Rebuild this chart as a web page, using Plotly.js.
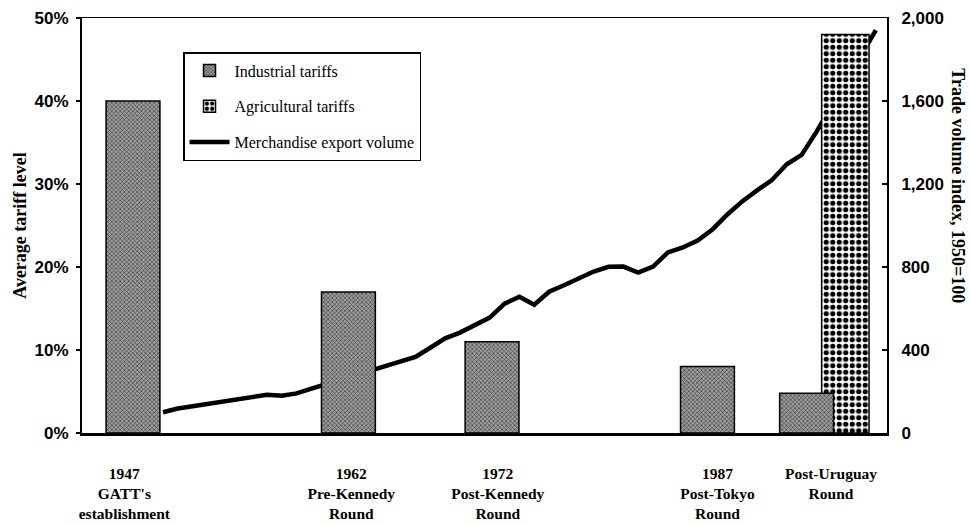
<!DOCTYPE html>
<html>
<head>
<meta charset="utf-8">
<script src="https://cdn.plot.ly/plotly-3.0.1.min.js"></script>
<style>
  html, body { margin: 0; padding: 0; background: #ffffff; }
  #chart { width: 970px; height: 525px; }
</style>
</head>
<body>
<div id="chart"></div>
<script>
// ---- Data ----
const categoryLabels = [
  "1947<br>GATT's<br>establishment",
  "1962<br>Pre-Kennedy<br>Round",
  "1972<br>Post-Kennedy<br>Round",
  "1987<br>Post-Tokyo<br>Round",
  "Post-Uruguay<br>Round"
];
const labelPos = [1946.4, 1962.2, 1972.4, 1987.7, 1995.6];

const industrialPos = [1947, 1962, 1972, 1987, 1993.9];
const industrialTariffs = [40, 17, 11, 8, 4.8];

const agriculturalPos = [1996.6];
const agriculturalTariffs = [48];

const exportYears = [1950, 1951, 1952, 1953, 1954, 1955, 1956, 1957, 1958, 1959,
                     1960, 1961, 1962, 1963, 1964, 1965, 1966, 1967, 1968, 1969,
                     1970, 1971, 1972, 1973, 1974, 1975, 1976, 1977, 1978, 1979,
                     1980, 1981, 1982, 1983, 1984, 1985, 1986, 1987, 1988, 1989,
                     1990, 1991, 1992, 1993, 1994, 1995, 1996, 1997, 1998];
const exportVolume = [100, 118, 129, 140, 150, 164, 176, 184, 180, 191,
                      214, 236, 257, 278, 300, 321, 343, 367, 411, 456,
                      484, 518, 556, 623, 657, 618, 681, 712, 745, 778,
                      801, 802, 773, 802, 870, 894, 928, 981, 1053, 1116,
                      1169, 1219, 1295, 1340, 1451, 1575, 1702, 1821, 1942];

const pctTicks = [0, 10, 20, 30, 40, 50];
const pctTickText = ["0%", "10%", "20%", "30%", "40%", "50%"];
const volTicks = [0, 400, 800, 1200, 1600, 2000];

// ---- Styles ----
const serif = "Liberation Serif, Times New Roman, serif";
const sans = "Liberation Sans, Arial, sans-serif";

const traces = [
  {
    type: "scatter", mode: "lines",
    name: "Merchandise export volume",
    x: exportYears, y: exportVolume,
    xaxis: "x", yaxis: "y",
    line: { color: "#000", width: 4.5 },
    legendrank: 3, legendgroup: "c",
    hoverinfo: "skip"
  },
  {
    type: "bar",
    name: "Agricultural tariffs",
    x: agriculturalPos, y: agriculturalTariffs,
    xaxis: "x2", yaxis: "y2",
    width: 3.3,
    marker: {
      color: "#ffffff",
      line: { color: "#000", width: 1.5 },
      pattern: { shape: ".", fgcolor: "#000", bgcolor: "#ffffff", size: 6.5, solidity: 0.5, fillmode: "replace" }
    },
    legendrank: 2, legendgroup: "b",
    hoverinfo: "skip"
  },
  {
    type: "bar",
    name: "Industrial tariffs",
    x: industrialPos, y: industrialTariffs,
    xaxis: "x2", yaxis: "y2",
    width: 3.75,
    marker: {
      color: "#8a8a8a",
      line: { color: "#000", width: 1.5 },
      pattern: { shape: "x", fgcolor: "#333333", bgcolor: "#9c9c9c", size: 3, solidity: 0.35, fillmode: "replace" }
    },
    legendrank: 1, legendgroup: "a",
    hoverinfo: "skip"
  }
];

const layout = {
  width: 970, height: 525,
  margin: { l: 82, r: 83, t: 18, b: 92 },
  paper_bgcolor: "#ffffff", plot_bgcolor: "#ffffff",
  showlegend: true,
  barmode: "overlay",
  legend: {
    x: 0.1255, y: 0.918, xanchor: "left", yanchor: "top",
    bgcolor: "#ffffff", bordercolor: "#000", borderwidth: 1.5,
    font: { family: serif, size: 16, color: "#000" },
    tracegroupgap: 12,
    itemwidth: 40
  },
  xaxis: {
    range: [1944.55, 1998.75],
    side: "top",
    showline: true, linecolor: "#000", linewidth: 1.5,
    showticklabels: false, ticks: "", showgrid: false, zeroline: false,
    fixedrange: true
  },
  yaxis: {
    range: [0, 2000],
    side: "right",
    showline: true, linecolor: "#000", linewidth: 2,
    tickvals: volTicks, tickformat: ",d",
    ticks: "inside", ticklen: 5, tickwidth: 1.5, tickcolor: "#000",
    ticklabelstandoff: 9,
    tickfont: { family: sans, size: 17, color: "#000", weight: "bold" },
    showgrid: false, zeroline: false, fixedrange: true
  },
  xaxis2: {
    overlaying: "x",
    range: [1943.45, 1999.5],
    side: "bottom",
    showline: true, linecolor: "#000", linewidth: 3,
    tickvals: labelPos, ticktext: categoryLabels,
    ticks: "", ticklabelstandoff: 24,
    tickfont: { family: serif, size: 15.5, color: "#000", weight: "bold" },
    showgrid: false, zeroline: false, fixedrange: true
  },
  yaxis2: {
    overlaying: "y",
    range: [0, 50],
    side: "left",
    showline: true, linecolor: "#000", linewidth: 2,
    tickvals: pctTicks, ticktext: pctTickText,
    ticks: "outside", ticklen: 4, tickwidth: 1.5, tickcolor: "#000",
    ticklabelstandoff: 4,
    tickfont: { family: sans, size: 17, color: "#000", weight: "bold" },
    title: { text: "Average tariff level", standoff: 3,
             font: { family: serif, size: 18, color: "#000", weight: "bold" } },
    showgrid: false, zeroline: false, fixedrange: true
  },
  annotations: [
    {
      text: "Trade volume index, 1950=100",
      xref: "paper", yref: "paper",
      x: 1.088, y: 0.595, xanchor: "center", yanchor: "middle",
      textangle: 90, showarrow: false,
      font: { family: serif, size: 18, color: "#000", weight: "bold" }
    }
  ]
};

Plotly.newPlot("chart", traces, layout, { staticPlot: true, displayModeBar: false });
</script>
</body>
</html>
